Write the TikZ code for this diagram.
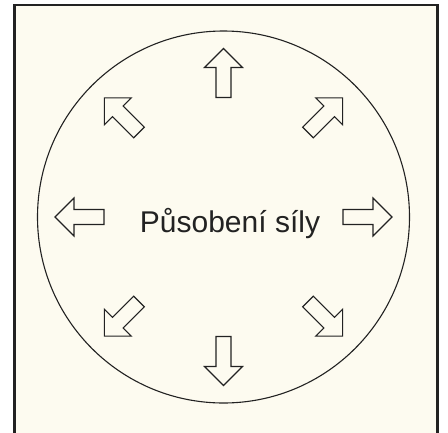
\documentclass[tikz,border=0pt]{standalone}
\usepackage{fontspec}
\setmainfont{Liberation Sans}
\definecolor{paper}{RGB}{253,251,240}
\definecolor{ink}{RGB}{34,34,34}
\tikzset{
  frame/.style={draw=ink, line width=2.4pt, fill=paper},
  outline/.style={draw=ink, line width=1.1pt},
  blockarrow/.style={draw=ink, line width=1.1pt, line join=miter, fill=paper},
  caption/.style={anchor=base, text=ink, font=\fontsize{30}{36}\selectfont},
}
\begin{document}
\begin{tikzpicture}[x=1pt,y=-1pt]
\useasboundingbox (0,0) rectangle (448,432);
\fill[white] (0,0) rectangle (448,432);
% panel, open at the lower edge
\draw[frame] (14.5,5) rectangle (437.5,445);
\coordinate (c) at (223.5,217);
\draw[outline] (c) circle[radius=186];
% eight block arrows pointing outwards
\foreach \a in {0,45,...,315} {
  \draw[blockarrow, shift={(c)}, rotate=\a, shift={(144,0)}]
    (-24.5,-7.5) -- (5.5,-7.5) -- (5.5,-19) -- (24.5,0) -- (5.5,19)
    -- (5.5,7.5) -- (-24.5,7.5) -- cycle;
}
\node[caption] (label) at (230,232) {Působení síly};
\end{tikzpicture}
\end{document}
